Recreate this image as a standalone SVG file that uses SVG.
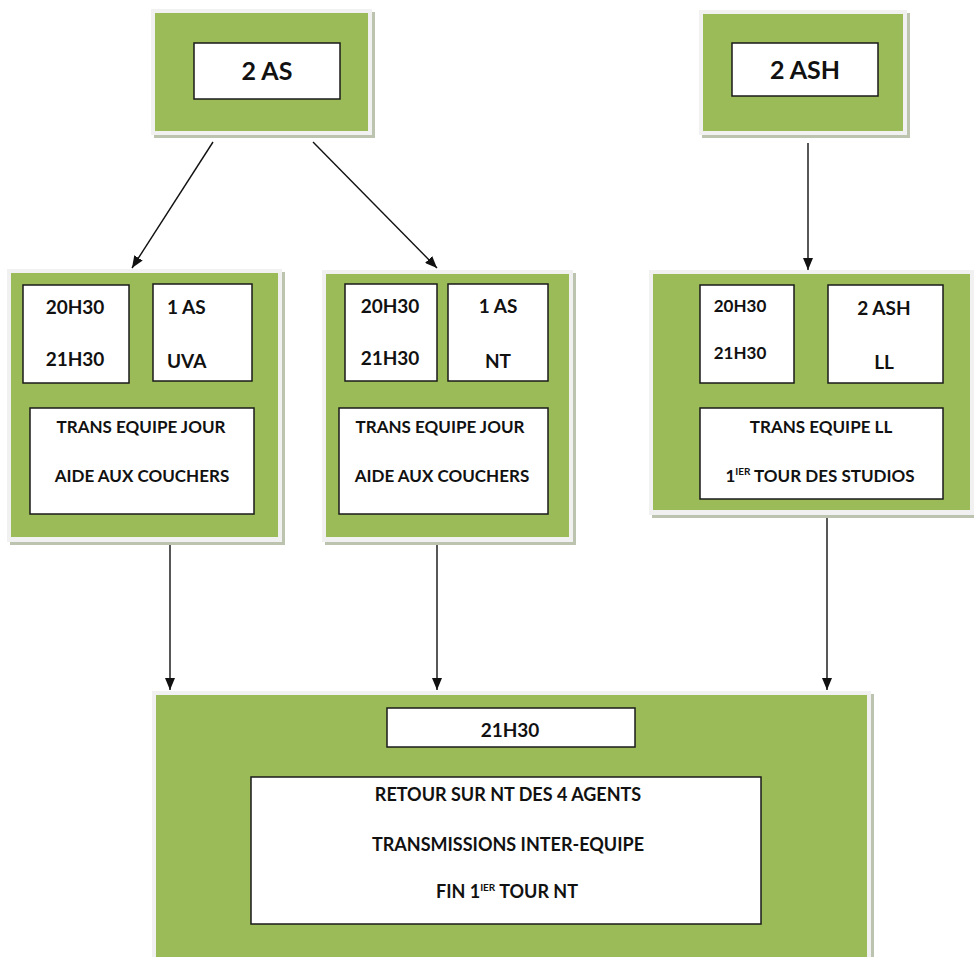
<svg xmlns="http://www.w3.org/2000/svg" width="974" height="957" viewBox="0 0 974 957">
<defs>
<style>
.sh{fill:#bcc3ae}
.fr{fill:#f1f1f1}
.gr{fill:#9bbb59}
.bx{fill:#ffffff;stroke:#1a1a1a;stroke-width:1.5}
text{font-family:Lato,"Open Sans","Liberation Sans",sans-serif;font-weight:bold;fill:#111}
.t22{font-size:25px}
.t19{font-size:19px}
.t17{font-size:17px}
.t16{font-size:17px}
.tb{font-size:18px}
.c{text-anchor:middle}
.ln{stroke:#111;stroke-width:1.4;fill:none;marker-end:url(#ah)}
</style>
<marker id="ah" viewBox="0 0 12 10" refX="12" refY="5" markerWidth="12" markerHeight="10" markerUnits="userSpaceOnUse" orient="auto">
<path d="M0,0 L12,5 L0,10 z" fill="#111"/>
</marker>
</defs>
<rect width="974" height="957" fill="#ffffff"/>

<g id="connectors">
<line class="ln" x1="213" y1="142" x2="132" y2="268"/>
<line class="ln" x1="313" y1="142" x2="437" y2="268"/>
<line class="ln" x1="808" y1="143" x2="808" y2="270"/>
<line class="ln" x1="170" y1="537" x2="170" y2="690"/>
<line class="ln" x1="437" y1="545" x2="437" y2="690"/>
<line class="ln" x1="827" y1="518" x2="827" y2="690"/>
</g>

<g id="node-2as">
<rect class="sh" x="154" y="12" width="221" height="126"/>
<rect class="fr" x="151" y="9" width="221" height="126"/>
<rect class="gr" x="155" y="13" width="213" height="118"/>
<rect class="bx" x="194" y="43" width="146" height="56"/>
<text class="t22 c" x="267" y="80">2 AS</text>
</g>

<g id="node-2ash">
<rect class="sh" x="702" y="13" width="208" height="125"/>
<rect class="fr" x="699" y="10" width="208" height="125"/>
<rect class="gr" x="703" y="14" width="200" height="117"/>
<rect class="bx" x="732" y="43" width="146" height="53"/>
<text class="t22 c" x="805" y="79">2 ASH</text>
</g>

<g id="node-uva">
<rect class="sh" x="10" y="272" width="275" height="273"/>
<rect class="fr" x="7" y="269" width="275" height="273"/>
<rect class="gr" x="11" y="273" width="267" height="264"/>
<rect class="bx" x="23" y="285" width="106" height="98"/>
<rect class="bx" x="153" y="284" width="99" height="97"/>
<rect class="bx" x="30" y="408" width="224" height="106"/>
<text class="t19 c" x="75" y="314">20H30</text>
<text class="t19 c" x="75" y="366">21H30</text>
<text class="t19" x="167" y="314">1 AS</text>
<text class="t19" x="167" y="368">UVA</text>
<text class="t16 c" x="141" y="433">TRANS EQUIPE JOUR</text>
<text class="t16 c" x="142" y="482">AIDE AUX COUCHERS</text>
</g>

<g id="node-nt">
<rect class="sh" x="325" y="273" width="251" height="272"/>
<rect class="fr" x="322" y="270" width="251" height="272"/>
<rect class="gr" x="326" y="274" width="243" height="263"/>
<rect class="bx" x="345" y="284" width="92" height="97"/>
<rect class="bx" x="448" y="284" width="100" height="97"/>
<rect class="bx" x="339" y="408" width="209" height="106"/>
<text class="t19 c" x="390" y="313">20H30</text>
<text class="t19 c" x="390" y="365">21H30</text>
<text class="t19 c" x="498" y="313">1 AS</text>
<text class="t19 c" x="498" y="368">NT</text>
<text class="t16 c" x="440" y="433">TRANS EQUIPE JOUR</text>
<text class="t16 c" x="442" y="482">AIDE AUX COUCHERS</text>
</g>

<g id="node-ll">
<rect class="sh" x="652" y="273" width="322" height="245"/>
<rect class="fr" x="649" y="270" width="325" height="245"/>
<rect class="gr" x="653" y="274" width="317" height="236"/>
<rect class="bx" x="700" y="285" width="94" height="98"/>
<rect class="bx" x="828" y="285" width="115" height="98"/>
<rect class="bx" x="700" y="408" width="243" height="91"/>
<text class="t17 c" x="740" y="312">20H30</text>
<text class="t17 c" x="740" y="359">21H30</text>
<text class="t19 c" x="884" y="315">2 ASH</text>
<text class="t19 c" x="884" y="369">LL</text>
<text class="t16 c" x="821" y="433">TRANS EQUIPE LL</text>
<text class="t16 c" x="820" y="482">1<tspan font-size="10" dy="-7">IER</tspan><tspan dy="7"> TOUR DES STUDIOS</tspan></text>
</g>

<g id="node-final">
<rect class="sh" x="155" y="694" width="719" height="263"/>
<rect class="fr" x="152" y="691" width="719" height="266"/>
<rect class="gr" x="156" y="695" width="711" height="262"/>
<rect class="bx" x="387" y="708" width="248" height="39"/>
<rect class="bx" x="251" y="777" width="510" height="147"/>
<text class="t19 c" x="510" y="737">21H30</text>
<text class="tb c" x="508" y="801">RETOUR SUR NT DES 4 AGENTS</text>
<text class="tb c" x="508" y="851">TRANSMISSIONS INTER-EQUIPE</text>
<text class="tb c" x="507" y="898">FIN 1<tspan font-size="10" dy="-7">IER</tspan><tspan dy="7"> TOUR NT</tspan></text>
</g>
</svg>
